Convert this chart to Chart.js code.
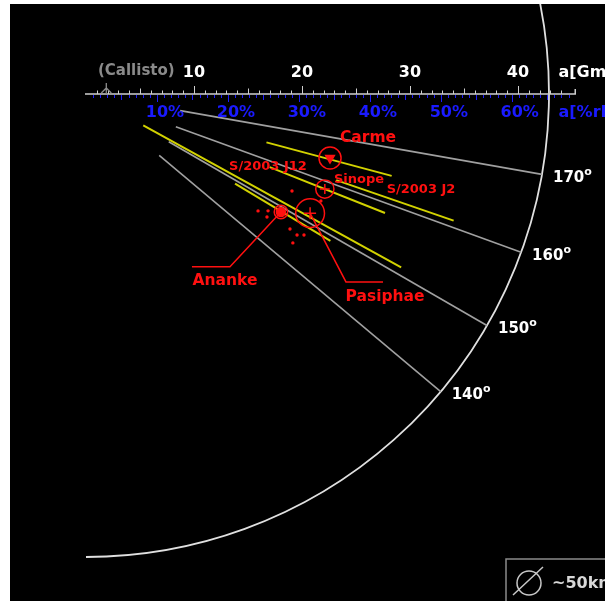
<!DOCTYPE html>
<html>
<head>
<meta charset="utf-8">
<script src="https://cdn.jsdelivr.net/npm/chart.js@4.4.0/dist/chart.umd.min.js"></script>
<style>
  html, body { margin: 0; padding: 0; background: #fff; }
  #wrap { position: absolute; left: 10px; top: 4px; width: 595px; height: 597px; background: #000; }
</style>
</head>
<body>
<div id="wrap"><canvas id="irregulars"></canvas></div>
<script>
// distances in Gm, inclinations in degrees (retrograde group of Jupiter)
const gridIncl = [170, 160, 150, 140];
const gridInner = 8.85;
const arcRadius = 42.87;
const gmTicks = [10, 20, 30, 40];
const pctTicks = [10, 20, 30, 40, 50, 60];
const hillRadius = 65.7;     // Gm that equals 100 %
const callistoA = 1.88;

// orbit ranges (pericentre .. apocentre) drawn as yellow segments
const segPeri = [6.05, 17.3, 18.3, 24.5, 16.1];
const segApo  = [33.3, 29.3, 29.8, 36.0, 26.4];
const segIncl = [151.2, 165.0, 158.3, 161.0, 149.0];

// named moons
const moonNames = ['Carme', 'Sinope', 'Ananke', 'Pasiphae'];
const moonA     = [23.36, 23.8, 21.1, 23.5];
const moonIncl  = [165.3, 158.3, 148.8, 152.0];
const moonDiam  = [46, 38, 28, 60];   // km

// small group members (red dots)
const smallA    = [21.08, 19.26, 20.03, 20.26, 22.65, 23.5, 24.04, 23.6, 23.9];
const smallIncl = [154.8, 145.8, 147.3, 145.8, 146.5, 146.25, 147.1, 144.25, 155.5];

const FONT = '"DejaVu Sans", Verdana, sans-serif';
const RED = '#ff1010';
const PX_PER_GM = 10.8;
const ORIGIN = { x: 76, y: 90 };   // canvas pixels of Jupiter
const W = 595, H = 597;

function polar(a, incl) {
    const t = (180 - incl) * Math.PI / 180;
    return { x: a * Math.cos(t), y: a * Math.sin(t) };
}

const lineDefaults = { showLine: true, pointRadius: 0, borderCapStyle: 'butt', fill: false };

const datasets = [];
gridIncl.forEach(i => datasets.push(Object.assign({}, lineDefaults, {
    data: [polar(gridInner, i), polar(arcRadius, i)],
    borderColor: '#a0a0a0', borderWidth: 1.6, order: 6
})));
segIncl.forEach((i, k) => datasets.push(Object.assign({}, lineDefaults, {
    data: [polar(segPeri[k], i), polar(segApo[k], i)],
    borderColor: '#d2d200', borderWidth: 2, order: 5
})));

const moonPos = moonA.map((a, k) => polar(a, moonIncl[k]));

// leader lines from Ananke and Pasiphae to their labels
const leaders = {
    Ananke: [{ x: 13.33, y: 16.0 }, { x: 9.81, y: 16.0 }],
    Pasiphae: [{ x: 24.07, y: 17.4 }, { x: 27.5, y: 17.4 }]
};
Object.keys(leaders).forEach(name => {
    const k = moonNames.indexOf(name);
    datasets.push(Object.assign({}, lineDefaults, {
        data: [moonPos[k]].concat(leaders[name]),
        borderColor: RED, borderWidth: 1.5, order: 4
    }));
});

datasets.push({
    data: smallA.map((a, k) => polar(a, smallIncl[k])),
    pointRadius: 1.7, pointStyle: 'circle',
    backgroundColor: RED, borderColor: RED, borderWidth: 0, order: 3
});
datasets.push({
    data: moonPos,
    pointRadius: moonDiam.map(d => d * 0.24), pointStyle: 'circle',
    backgroundColor: 'rgba(0,0,0,0)', borderColor: RED, borderWidth: 1.5, order: 2
});
datasets.push({
    data: moonPos,
    pointRadius: [5, 5, 4.5, 6],
    pointStyle: ['triangle', 'cross', 'circle', 'cross'],
    rotation: [180, 0, 0, 0],
    backgroundColor: RED, borderColor: RED, borderWidth: 1.5, order: 1
});

// text labels, anchored in Gm coordinates
const labels = [
    { text: 'Carme',      x: 26.11, y: 4.1,  size: 15.5 },
    { text: 'Sinope',     x: 25.28, y: 7.9,  size: 13 },
    { text: 'S/2003 J2',  x: 31.02, y: 8.9,  size: 13 },
    { text: 'S/2003 J12', x: 16.85, y: 6.75, size: 13 },
    { text: 'Ananke',     x: 12.87, y: 17.3, size: 15.5 },
    { text: 'Pasiphae',   x: 27.69, y: 18.8, size: 15.5 }
];

const diagram = {
    id: 'diagram',
    beforeDatasetsDraw(chart) {
        const ctx = chart.ctx, xs = chart.scales.x, ys = chart.scales.y;
        const cx = xs.getPixelForValue(0), cy = ys.getPixelForValue(0);
        const px = v => xs.getPixelForValue(v);
        ctx.save();
        // outer arc
        const r = px(arcRadius) - cx;
        ctx.strokeStyle = '#e0e0e0';
        ctx.lineWidth = 1.8;
        ctx.beginPath();
        ctx.arc(cx, cy, r, -0.35, Math.PI / 2);
        ctx.stroke();

        // distance axis
        const axisEnd = 45.3;
        ctx.strokeStyle = '#cfcfcf';
        ctx.lineWidth = 1.5;
        ctx.beginPath();
        ctx.moveTo(cx - 1, cy);
        ctx.lineTo(px(axisEnd), cy);
        ctx.lineTo(px(axisEnd), cy - 5);
        ctx.stroke();
        ctx.lineWidth = 1;
        for (let g = 1; g <= 44; g++) {
            const h = g % 10 === 0 ? 8 : (g % 5 === 0 ? 5.5 : 3.5);
            const x = Math.round(px(g)) + 0.5;
            ctx.beginPath();
            ctx.moveTo(x, cy);
            ctx.lineTo(x, cy - h);
            ctx.stroke();
        }
        ctx.strokeStyle = '#1a1aff';
        for (let p = 1; p <= 68; p++) {
            const h = p % 10 === 0 ? 8 : (p % 5 === 0 ? 6 : 4);
            const x = Math.round(px(p * hillRadius / 100)) + 0.5;
            ctx.beginPath();
            ctx.moveTo(x, cy + 1);
            ctx.lineTo(x, cy + h);
            ctx.stroke();
        }
        // Callisto marker
        const ca = px(callistoA);
        ctx.strokeStyle = '#8c8c8c';
        ctx.lineWidth = 1.3;
        ctx.beginPath();
        ctx.moveTo(ca, cy - 11); ctx.lineTo(ca, cy);
        ctx.moveTo(ca - 5, cy - 1); ctx.lineTo(ca, cy - 6); ctx.lineTo(ca + 5, cy - 1);
        ctx.stroke();
        ctx.restore();
    },
    afterDatasetsDraw(chart) {
        const ctx = chart.ctx, xs = chart.scales.x, ys = chart.scales.y;
        const cx = xs.getPixelForValue(0), cy = ys.getPixelForValue(0);
        const px = v => xs.getPixelForValue(v);
        ctx.save();
        ctx.textBaseline = 'middle';

        // Gm labels
        ctx.font = 'bold 16px ' + FONT;
        ctx.fillStyle = '#ffffff';
        ctx.textAlign = 'center';
        gmTicks.forEach(g => ctx.fillText(String(g), px(g), cy - 21));
        ctx.textAlign = 'left';
        ctx.fillText('a[Gm]', px(43.75), cy - 21);
        ctx.font = 'bold 15px ' + FONT;
        ctx.fillStyle = '#8a8a8a';
        ctx.textAlign = 'center';
        ctx.fillText('(Callisto)', px(callistoA) + 30, cy - 23);

        // percent of Hill radius labels
        ctx.font = 'bold 16px ' + FONT;
        ctx.fillStyle = '#1a1aff';
        ctx.textAlign = 'left';
        pctTicks.forEach(p => {
            const s = String(p);
            const w = ctx.measureText(s).width;
            ctx.fillText(s + '%', px(p * hillRadius / 100) - w / 2, cy + 19);
        });
        ctx.fillText('a[%rH]', px(43.75), cy + 19);

        // inclination labels outside the arc
        ctx.fillStyle = '#ffffff';
        gridIncl.forEach(i => {
            const pt = polar(arcRadius, i);
            const x = px(pt.x) + 11, y = ys.getPixelForValue(pt.y) + 4;
            ctx.font = 'bold 15px ' + FONT;
            ctx.fillText(String(i), x, y);
            const w = ctx.measureText(String(i)).width;
            ctx.font = 'bold 11px ' + FONT;
            ctx.fillText('o', x + w, y - 6);
        });

        // moon labels
        ctx.fillStyle = RED;
        ctx.textAlign = 'center';
        labels.forEach(l => {
            ctx.font = 'bold ' + l.size + 'px ' + FONT;
            ctx.fillText(l.text, px(l.x), ys.getPixelForValue(l.y));
        });

        // size legend
        const lx = 496, ly = 555;
        ctx.strokeStyle = '#8a8a8a';
        ctx.lineWidth = 1.5;
        ctx.strokeRect(lx, ly, 120, 60);
        ctx.strokeStyle = '#c8c8c8';
        ctx.beginPath();
        ctx.arc(lx + 23, ly + 24, 12, 0, Math.PI * 2);
        ctx.moveTo(lx + 7, ly + 36);
        ctx.lineTo(lx + 37, ly + 8);
        ctx.stroke();
        ctx.fillStyle = '#d8d8d8';
        ctx.font = 'bold 16px ' + FONT;
        ctx.textAlign = 'left';
        ctx.fillText('~50km', lx + 46, ly + 25);
        ctx.restore();
    }
};

new Chart(document.getElementById('irregulars'), {
    type: 'scatter',
    data: { datasets: datasets },
    options: {
        responsive: true,
        maintainAspectRatio: false,
        animation: false,
        layout: { padding: 0, autoPadding: false },
        scales: {
            x: { type: 'linear', display: false, min: -ORIGIN.x / PX_PER_GM, max: (W - ORIGIN.x) / PX_PER_GM },
            y: { type: 'linear', display: false, reverse: true, min: -ORIGIN.y / PX_PER_GM, max: (H - ORIGIN.y) / PX_PER_GM }
        },
        plugins: {
            legend: { display: false },
            tooltip: { enabled: false }
        }
    },
    plugins: [diagram]
});
</script>
</body>
</html>
